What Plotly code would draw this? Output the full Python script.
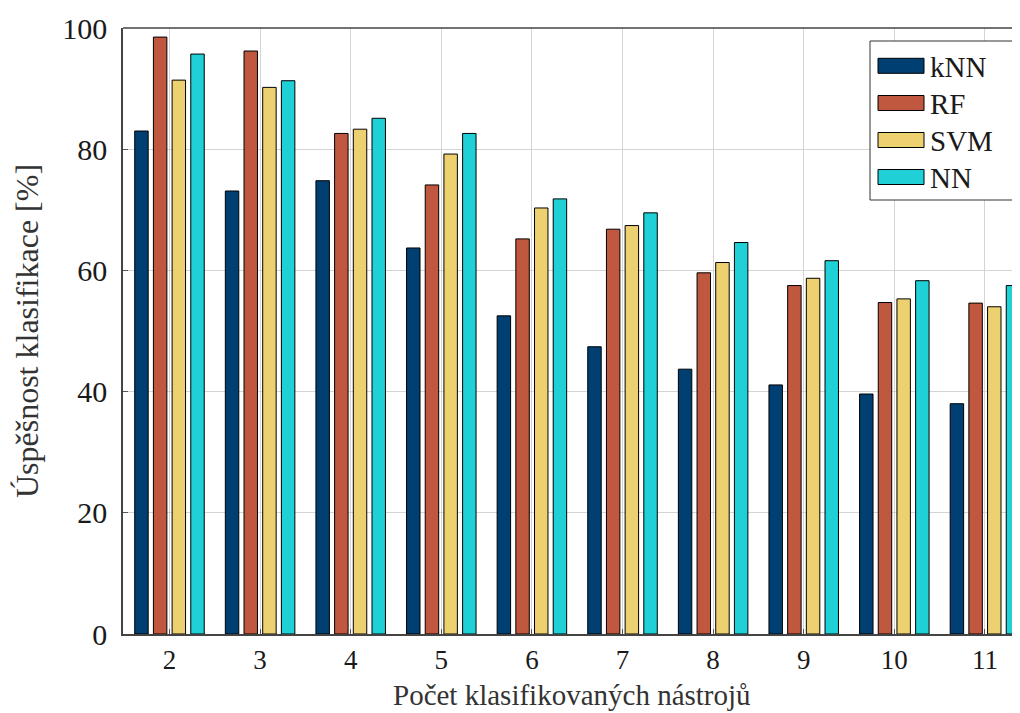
import plotly.graph_objects as go

categories = [2, 3, 4, 5, 6, 7, 8, 9, 10, 11]
knn = [83.0, 73.1, 74.8, 63.7, 52.5, 47.4, 43.7, 41.1, 39.6, 38.0]
rf = [98.5, 96.2, 82.6, 74.1, 65.2, 66.8, 59.6, 57.5, 54.7, 54.6]
svm = [91.4, 90.2, 83.3, 79.2, 70.3, 67.4, 61.3, 58.7, 55.3, 54.0]
nn = [95.7, 91.3, 85.1, 82.6, 71.8, 69.5, 64.6, 61.6, 58.3, 57.5]
series_names = ["kNN", "RF", "SVM", "NN"]
colors = ["#003f72", "#c0573f", "#edd170", "#1fd0d6"]
y_ticks = [0, 20, 40, 60, 80, 100]

FONT = "Liberation Serif"
TXT = "#1a1a1a"

fig = go.Figure()
for name, vals, col in zip(series_names, [knn, rf, svm, nn], colors):
    fig.add_trace(go.Bar(
        x=categories, y=vals, name=name, showlegend=False,
        marker=dict(color=col, line=dict(color="#000000", width=1)),
    ))

# plot area in figure pixels (page adds 8px body margin)
L, T, W, H = 115, 20, 897, 606

def px(fx):
    return (fx - L) / W

def py(fy):
    return (T + H - fy) / H

shapes = [dict(type="line", xref="paper", yref="paper", x0=0, x1=1, y0=1, y1=1,
               line=dict(color="#444444", width=1.5))]
annotations = []
# legend box
shapes.append(dict(type="rect", xref="paper", yref="paper",
                   x0=px(862), x1=px(1005), y0=py(192), y1=py(33),
                   fillcolor="white", line=dict(color="#333333", width=1), layer="above"))
row_y = [57.8, 95, 132, 169]
for i, (name, col) in enumerate(zip(series_names, colors)):
    cy = row_y[i]
    shapes.append(dict(type="rect", xref="paper", yref="paper",
                       x0=px(870), x1=px(916), y0=py(cy + 7.5), y1=py(cy - 7.5),
                       fillcolor=col, line=dict(color="#000000", width=1), layer="above"))
    annotations.append(dict(xref="paper", yref="paper", x=px(920), y=py(cy + 1),
                            xanchor="left", yanchor="middle", showarrow=False,
                            text=name, font=dict(family=FONT, size=29, color=TXT)))

# x-axis title placed as annotation below the tick labels
annotations.append(dict(xref="paper", yref="paper", x=0.5, y=py(687),
                        xanchor="center", yanchor="middle", showarrow=False,
                        text="Počet klasifikovaných nástrojů",
                        font=dict(family=FONT, size=29, color="#333333")))

fig.update_layout(
    width=1012, height=705,
    margin=dict(l=L, r=0, t=T, b=705 - T - H),
    paper_bgcolor="white", plot_bgcolor="white",
    barmode="group", bargap=0.175, bargroupgap=0.28,
    font=dict(family=FONT, size=30, color=TXT),
    showlegend=False,
    xaxis=dict(
        range=[1.487, 11.387],
        tickmode="array", tickvals=categories, ticktext=[str(c) for c in categories],
        showgrid=True, gridcolor="#d4d4d4", gridwidth=1,
        showline=True, linecolor="#444444", linewidth=1.5,
        ticks="inside", ticklen=5, tickcolor="#555555",
        ticklabelstandoff=1,
        tickfont=dict(family=FONT, size=27, color=TXT),
        zeroline=False,
    ),
    yaxis=dict(
        range=[0, 100],
        tickmode="array", tickvals=y_ticks,
        showgrid=True, gridcolor="#d4d4d4", gridwidth=1,
        showline=True, linecolor="#444444", linewidth=1.5,
        ticks="inside", ticklen=5, tickcolor="#555555",
        ticklabelstandoff=8,
        tickfont=dict(family=FONT, size=30, color=TXT),
        title=dict(text="Úspěšnost klasifikace [%]", font=dict(family=FONT, size=32, color="#333333"), standoff=14),
        zeroline=False,
    ),
    shapes=shapes,
    annotations=annotations,
)

fig.write_html("out.html")
